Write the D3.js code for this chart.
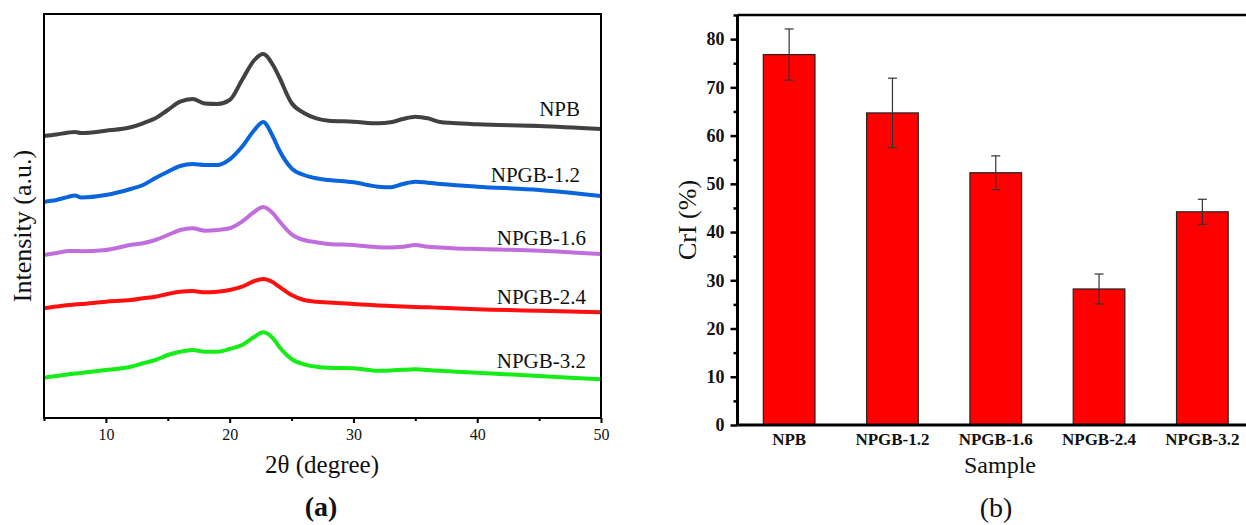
<!DOCTYPE html>
<html>
<head>
<meta charset="utf-8">
<script src="https://cdn.jsdelivr.net/npm/d3@7"></script>
<style>
  html, body { margin: 0; padding: 0; background: #fff; }
  svg { display: block; }
  text { font-family: "Liberation Serif", "Times New Roman", serif; }
</style>
</head>
<body>
<svg id="chart" width="1246" height="525"></svg>
<script>
// ---------- Panel (a): XRD patterns ----------
const twoTheta = [5, 6, 7, 7.5, 8, 10, 12, 13, 14, 15, 16, 17, 18, 19, 20, 21, 22, 22.7, 23.5, 24, 25, 26, 27, 28, 30, 32, 33, 34, 35, 36, 37, 38, 40, 45, 50];
const seriesNames = ["NPB", "NPGB-1.2", "NPGB-1.6", "NPGB-2.4", "NPGB-3.2"];
const intNPB   = [282, 283.5, 285.5, 286, 285, 287.3, 290.7, 294.7, 299.7, 308, 316.3, 319, 314.5, 314, 318, 338, 358, 364, 353, 341, 315, 305, 299.7, 297.3, 296.3, 294.7, 295.7, 299, 301.3, 299.7, 296, 295, 293.7, 292, 289];
const intNPGB12 = [216.3, 218, 221.3, 222.5, 220.5, 223, 229, 233, 240, 246.3, 252, 254, 253, 253, 258.7, 271.3, 288, 296, 281.3, 268, 249.7, 243, 239.7, 238, 235.7, 231.3, 230.7, 234, 236.3, 235.3, 234, 233, 231.3, 228, 222];
const intNPGB16 = [163, 165, 167, 167, 166.8, 168, 173, 174.7, 178, 183, 188, 189.7, 187.3, 188, 189.7, 196.3, 206.3, 211, 204.7, 197, 183.7, 178, 175.7, 174, 173, 170.7, 170.5, 171.3, 173, 171.3, 170.5, 169.7, 169, 167.3, 164];
const intNPGB24 = [109.7, 111.5, 113, 113.5, 114, 116.3, 118, 119.7, 121.3, 124, 126.3, 127, 125.7, 126.3, 128, 131.3, 137, 139, 135.7, 131.3, 123, 118, 116.3, 115.5, 114, 112.5, 112, 111.5, 111, 110.7, 110.2, 109.7, 108.7, 107.3, 105.7];
const intNPGB32 = [40.3, 42, 43.7, 44.5, 45, 48, 51.3, 54.7, 58, 63, 66.3, 68, 66.3, 66.3, 69, 73, 81.3, 85.7, 79.7, 71.3, 59, 53.7, 51.3, 50.2, 49.7, 47.3, 47.5, 48.2, 48.7, 48, 47.2, 46.5, 45.3, 42, 38.7];
const seriesColors = ["#414141", "#0a64dc", "#c06ede", "#ff1010", "#16ec16"];
const seriesLabelY = [302, 236.3, 173, 113.7, 50]; // intensity level of label baselines
const xTicksA = [10, 20, 30, 40, 50];
const xMinorA = [5, 15, 25, 35, 45];

// ---------- Panel (b): CrI bar chart ----------
const samples = ["NPB", "NPGB-1.2", "NPGB-1.6", "NPGB-2.4", "NPGB-3.2"];
const criValues = [76.8, 64.7, 52.3, 28.2, 44.2];
const criErrors = [5.3, 7.2, 3.5, 3.1, 2.6];
const yTicksB = [0, 10, 20, 30, 40, 50, 60, 70, 80];
const yMinorB = [5, 15, 25, 35, 45, 55, 65, 75, 85];

const svg = d3.select("#chart");

// ===== Panel (a) =====
const A = { left: 44, right: 601, top: 14, bottom: 418 };
const xA = d3.scaleLinear().domain([5, 50]).range([A.left, A.right]);
const yA = d3.scaleLinear().domain([0, 404]).range([A.bottom, A.top]);

const gA = svg.append("g");
const allSeries = [intNPB, intNPGB12, intNPGB16, intNPGB24, intNPGB32];
const line = d3.line().x(d => xA(d[0])).y(d => yA(d[1])).curve(d3.curveMonotoneX);
allSeries.forEach((vals, i) => {
  gA.append("path")
    .datum(twoTheta.map((t, j) => [t, vals[j]]))
    .attr("d", line)
    .attr("fill", "none")
    .attr("stroke", seriesColors[i])
    .attr("stroke-width", 4)
    .attr("stroke-linejoin", "round");
});

// frame
gA.append("rect")
  .attr("x", A.left).attr("y", A.top)
  .attr("width", A.right - A.left).attr("height", A.bottom - A.top)
  .attr("fill", "none").attr("stroke", "#000").attr("stroke-width", 2);

// bottom axis
const axA = d3.axisBottom(xA).tickValues(xTicksA).tickSize(5).tickPadding(6).tickFormat(d3.format("d"));
const gAx = gA.append("g").attr("transform", `translate(0,${A.bottom})`).call(axA);
gAx.select(".domain").remove();
gAx.selectAll(".tick line").attr("stroke", "#000").attr("stroke-width", 2);
gAx.selectAll(".tick text").attr("font-family", "Liberation Serif").attr("font-size", 16).attr("fill", "#111");
const axAm = d3.axisBottom(xA).tickValues(xMinorA).tickSize(3).tickFormat("");
const gAxm = gA.append("g").attr("transform", `translate(0,${A.bottom})`).call(axAm);
gAxm.select(".domain").remove();
gAxm.selectAll(".tick line").attr("stroke", "#000").attr("stroke-width", 2);

// series labels
seriesNames.forEach((n, i) => {
  gA.append("text")
    .attr("x", i < 2 ? 580 : 586)
    .attr("y", yA(seriesLabelY[i]))
    .attr("text-anchor", "end")
    .attr("font-size", 21)
    .attr("fill", "#111")
    .text(n);
});

// axis titles
gA.append("text")
  .attr("x", 322).attr("y", 473)
  .attr("text-anchor", "middle").attr("font-size", 25).attr("fill", "#111")
  .text("2θ (degree)");
gA.append("text")
  .attr("transform", `translate(31,226) rotate(-90)`)
  .attr("text-anchor", "middle").attr("font-size", 26).attr("fill", "#111")
  .text("Intensity (a.u.)");
gA.append("text")
  .attr("x", 321).attr("y", 516)
  .attr("text-anchor", "middle").attr("font-size", 28).attr("font-weight", "bold")
  .attr("font-family", "Liberation Sans").attr("fill", "#111")
  .text("(a)");

// ===== Panel (b) =====
const B = { left: 737.5, right: 1254, top: 15, bottom: 425 };
const xB = d3.scaleBand().domain(samples).range([B.left, B.right]).paddingInner(0.5).paddingOuter(0.25);
const yB = d3.scaleLinear().domain([0, 85]).range([B.bottom, B.top]);
const gB = svg.append("g");

gB.selectAll("rect.bar")
  .data(samples)
  .join("rect")
  .attr("class", "bar")
  .attr("x", d => xB(d))
  .attr("width", xB.bandwidth())
  .attr("y", (d, i) => yB(criValues[i]))
  .attr("height", (d, i) => yB(0) - yB(criValues[i]))
  .attr("fill", "#ff0000")
  .attr("stroke", "#222")
  .attr("stroke-width", 1.2);

// error bars
samples.forEach((s, i) => {
  const cx = xB(s) + xB.bandwidth() / 2;
  const hi = yB(criValues[i] + criErrors[i]);
  const lo = yB(criValues[i] - criErrors[i]);
  const g = gB.append("g").attr("stroke", "#333").attr("stroke-width", 1.2);
  g.append("line").attr("x1", cx).attr("x2", cx).attr("y1", hi).attr("y2", lo);
  g.append("line").attr("x1", cx - 4.5).attr("x2", cx + 4.5).attr("y1", hi).attr("y2", hi);
  g.append("line").attr("x1", cx - 4.5).attr("x2", cx + 4.5).attr("y1", lo).attr("y2", lo);
});

// frame lines: top, left, bottom
gB.append("line").attr("x1", B.left).attr("x2", B.right).attr("y1", B.top).attr("y2", B.top)
  .attr("stroke", "#000").attr("stroke-width", 2.5);
gB.append("line").attr("x1", B.left).attr("x2", B.left).attr("y1", B.top).attr("y2", B.bottom)
  .attr("stroke", "#000").attr("stroke-width", 3);
gB.append("line").attr("x1", B.left).attr("x2", B.right).attr("y1", B.bottom).attr("y2", B.bottom)
  .attr("stroke", "#000").attr("stroke-width", 3);

// y axis
const ayB = d3.axisLeft(yB).tickValues(yTicksB).tickSize(7).tickPadding(6).tickFormat(d3.format("d"));
const gBy = gB.append("g").attr("transform", `translate(${B.left},0)`).call(ayB);
gBy.select(".domain").remove();
gBy.selectAll(".tick line").attr("stroke", "#000").attr("stroke-width", 2.5);
gBy.selectAll(".tick text").attr("font-family", "Liberation Serif").attr("font-size", 18)
  .attr("font-weight", "bold").attr("fill", "#111");
const ayBm = d3.axisLeft(yB).tickValues(yMinorB).tickSize(4).tickFormat("");
const gBym = gB.append("g").attr("transform", `translate(${B.left},0)`).call(ayBm);
gBym.select(".domain").remove();
gBym.selectAll(".tick line").attr("stroke", "#000").attr("stroke-width", 2.5);

// x axis labels
const axB = d3.axisBottom(xB).tickSize(0).tickPadding(8);
const gBx = gB.append("g").attr("transform", `translate(0,${B.bottom})`).call(axB);
gBx.select(".domain").remove();
gBx.selectAll(".tick text").attr("font-family", "Liberation Serif").attr("font-size", 17)
  .attr("font-weight", "bold").attr("fill", "#111");

// titles
gB.append("text")
  .attr("x", 1000).attr("y", 473)
  .attr("text-anchor", "middle").attr("font-size", 24).attr("fill", "#111")
  .text("Sample");
gB.append("text")
  .attr("transform", `translate(696,220) rotate(-90)`)
  .attr("text-anchor", "middle").attr("font-size", 26).attr("fill", "#111")
  .text("CrI (%)");
gB.append("text")
  .attr("x", 996).attr("y", 517)
  .attr("text-anchor", "middle").attr("font-size", 28)
  .attr("font-family", "Open Sans").attr("fill", "#111")
  .text("(b)");
</script>
</body>
</html>
